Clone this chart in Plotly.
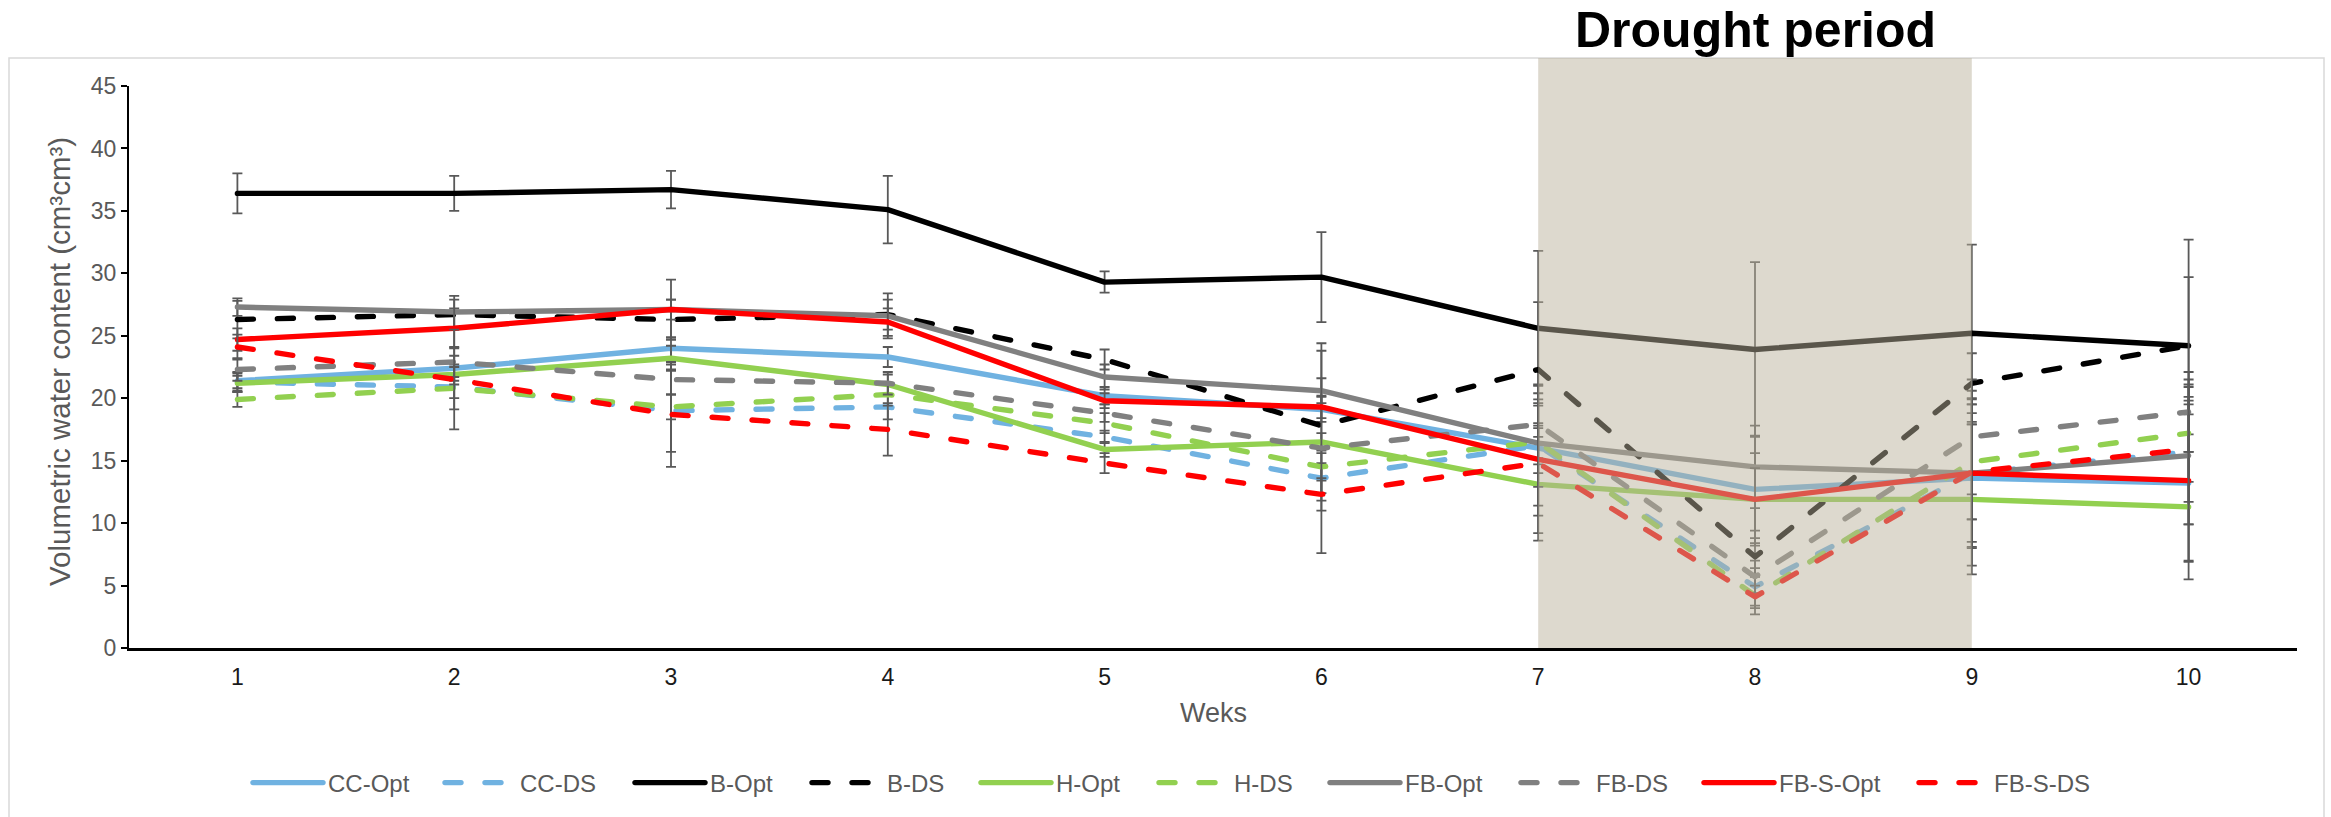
import plotly.graph_objects as go

# Weekly volumetric water content per treatment (mean and standard error)
weeks = [1, 2, 3, 4, 5, 6, 7, 8, 9, 10]

cc_opt = [21.4, 22.4, 24.0, 23.3, 20.2, 19.1, 16.0, 12.7, 13.6, 13.2]
cc_ds = [21.3, 20.9, 19.0, 19.3, 16.9, 13.6, 16.2, 4.9, 14.0, 15.7]
b_opt = [36.4, 36.4, 36.7, 35.1, 29.3, 29.7, 25.6, 23.9, 25.2, 24.2]
b_ds = [26.3, 26.7, 26.3, 26.7, 23.1, 17.8, 22.3, 7.3, 21.2, 24.2]
h_opt = [21.2, 21.9, 23.2, 21.1, 15.9, 16.5, 13.1, 11.9, 11.9, 11.3]
h_ds = [19.9, 20.8, 19.3, 20.3, 18.0, 14.5, 16.5, 4.2, 14.9, 17.2]
fb_opt = [27.3, 26.9, 27.1, 26.6, 21.7, 20.6, 16.4, 14.5, 14.0, 15.4]
fb_ds = [22.3, 22.9, 21.5, 21.2, 18.8, 16.0, 17.9, 5.7, 16.9, 18.9]
fbs_opt = [24.7, 25.6, 27.1, 26.1, 19.8, 19.3, 15.1, 11.9, 14.0, 13.4]
fbs_ds = [24.1, 21.5, 18.7, 17.5, 14.8, 12.3, 14.8, 4.1, 14.1, 15.9]

cc_opt_err = [0.6, 1.0, 0.9, 0.8, 0.7, 1.0, 2.0, 4.3, 7.0, 6.3]
cc_ds_err = [0.8, 0.9, 3.3, 1.0, 0.5, 1.2, 4.8, 1.5, 5.5, 5.8]
b_opt_err = [1.6, 1.4, 1.5, 2.7, 0.85, 3.6, 6.2, 7.0, 7.1, 8.5]
b_ds_err = [1.5, 1.2, 1.6, 1.2, 0.8, 6.0, 5.4, 1.5, 2.4, 5.5]
h_opt_err = [0.6, 0.8, 1.0, 0.8, 0.6, 0.7, 4.5, 3.7, 6.0, 5.8]
h_ds_err = [0.6, 1.7, 1.0, 0.9, 0.8, 1.1, 1.3, 1.5, 4.6, 3.9]
fb_opt_err = [0.7, 1.3, 0.8, 1.8, 1.0, 1.0, 3.5, 3.3, 5.9, 5.5]
fb_ds_err = [0.9, 1.2, 1.2, 0.9, 0.7, 8.4, 3.2, 1.3, 4.6, 3.2]
fbs_opt_err = [0.9, 1.6, 2.4, 1.1, 0.6, 0.9, 4.5, 2.5, 6.0, 6.4]
fbs_ds_err = [1.0, 4.0, 4.2, 2.1, 0.8, 1.3, 5.6, 0.9, 3.8, 4.2]

series = [
    ("CC-Opt", cc_opt, cc_opt_err, "#70B2E1", "solid"),
    ("CC-DS", cc_ds, cc_ds_err, "#70B2E1", "dash"),
    ("B-Opt", b_opt, b_opt_err, "#000000", "solid"),
    ("B-DS", b_ds, b_ds_err, "#000000", "dash"),
    ("H-Opt", h_opt, h_opt_err, "#92D050", "solid"),
    ("H-DS", h_ds, h_ds_err, "#92D050", "dash"),
    ("FB-Opt", fb_opt, fb_opt_err, "#808080", "solid"),
    ("FB-DS", fb_ds, fb_ds_err, "#808080", "dash"),
    ("FB-S-Opt", fbs_opt, fbs_opt_err, "#FF0000", "solid"),
    ("FB-S-DS", fbs_ds, fbs_ds_err, "#FF0000", "dash"),
]

# left edge (px) of each legend entry along the bottom row
legend_left_px = [253, 445, 635, 812, 981, 1159, 1330, 1521, 1704, 1919]

W, H = 2331, 817
M_L, M_R, M_T, M_B = 129, 34, 86, 169
PW, PH = W - M_L - M_R, H - M_T - M_B


def px_to_paper_x(px):
    return (px - M_L) / PW


def px_to_paper_y(py):
    return (H - M_B - py) / PH


FONT = "Liberation Sans, Arial, sans-serif"
GREY_TXT = "#595959"

fig = go.Figure()
layout_legends = {}
for i, (name, vals, errs, color, style) in enumerate(series):
    lg = "legend" if i == 0 else f"legend{i + 1}"
    fig.add_trace(go.Scatter(
        x=weeks, y=vals, name=name, mode="lines",
        line=dict(color=color, width=5.4,
                  dash="16px,24px" if style == "dash" else "solid"),
        error_y=dict(type="data", array=errs, visible=True,
                     color="#595959", thickness=1.8, width=5),
        legend=lg,
    ))
    layout_legends[lg] = dict(
        x=px_to_paper_x(legend_left_px[i] - 5), xanchor="left",
        y=px_to_paper_y(783), yanchor="middle",
        orientation="h", itemwidth=70, borderwidth=0,
        bgcolor="rgba(0,0,0,0)",
        font=dict(family=FONT, size=24, color=GREY_TXT),
    )

fig.update_layout(
    width=W, height=H,
    margin=dict(l=M_L, r=M_R, t=M_T, b=M_B),
    paper_bgcolor="white", plot_bgcolor="white",
    showlegend=True,
    **layout_legends,
    xaxis=dict(
        range=[0.5, 10.5], tickvals=weeks, ticktext=[str(w) for w in weeks],
        showgrid=False, zeroline=False, showline=True, linecolor="black",
        linewidth=2.5, ticks="", ticklabelstandoff=7,
        tickfont=dict(family=FONT, size=23, color="#1a1a1a"),
    ),
    yaxis=dict(
        range=[0, 45], dtick=5, showgrid=False, zeroline=False,
        showline=True, linecolor="black", linewidth=2,
        ticks="outside", ticklen=6, tickwidth=1.5, tickcolor="black",
        tickfont=dict(family=FONT, size=23, color=GREY_TXT),
    ),
    shapes=[
        # chart frame
        dict(type="rect", xref="paper", yref="paper",
             x0=px_to_paper_x(9), x1=px_to_paper_x(2324),
             y0=px_to_paper_y(840), y1=px_to_paper_y(58),
             line=dict(color="#D9D9D9", width=1.5), fillcolor="rgba(0,0,0,0)",
             layer="below"),
        # drought period band (weeks 7 to 9)
        dict(type="rect", xref="x", yref="paper",
             x0=7, x1=9, y0=0, y1=px_to_paper_y(58),
             fillcolor="rgb(185,177,155)", opacity=0.486,
             line=dict(width=0), layer="above"),
    ],
    annotations=[
        dict(text="<b>Drought period</b>", xref="x", yref="paper",
             x=8, y=px_to_paper_y(30), xanchor="center", yanchor="middle",
             showarrow=False, font=dict(family=FONT, size=50, color="black")),
        dict(text="Volumetric water content (cm³cm³)", xref="paper", yref="paper",
             x=px_to_paper_x(59), y=px_to_paper_y(362), textangle=-90,
             xanchor="center", yanchor="middle", showarrow=False,
             font=dict(family=FONT, size=29.5, color=GREY_TXT)),
        dict(text="Weks", xref="paper", yref="paper",
             x=0.5, y=px_to_paper_y(713), xanchor="center", yanchor="middle",
             showarrow=False, font=dict(family=FONT, size=27, color=GREY_TXT)),
    ],
)

round_caps = (
    "document.querySelectorAll('.js-line').forEach(function(p){"
    "p.style.strokeLinecap='round';p.style.strokeLinejoin='round';});"
)
fig.write_html("out.html", post_script=round_caps)
